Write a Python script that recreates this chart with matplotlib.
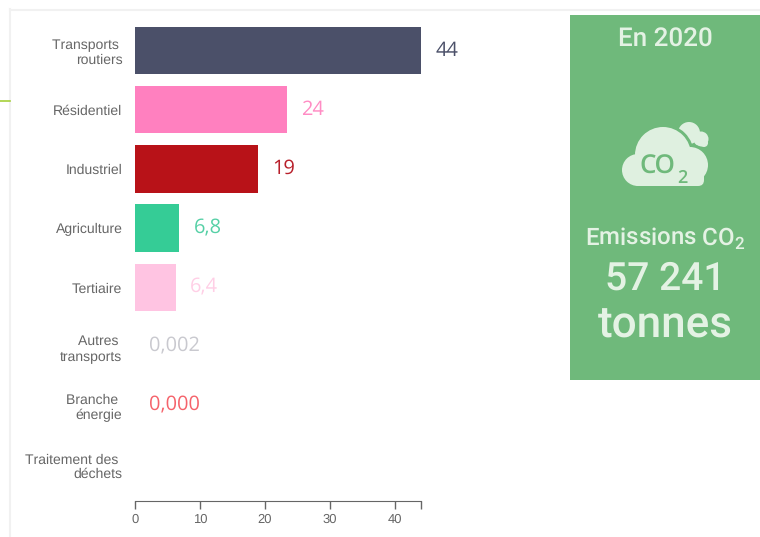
import numpy as np
import matplotlib
matplotlib.use('Agg')
import matplotlib.pyplot as plt
from matplotlib.patches import Circle, FancyBboxPatch, Rectangle

# data
labels = ['Transports \nroutiers', 'Résidentiel', 'Industriel', 'Agriculture', 'Tertiaire',
          'Autres \ntransports', 'Branche \nénergie', 'Traitement des \ndéchets']
values = [44, 23.4, 18.9, 6.8, 6.3, 0.002, 0.0, 0.0]
value_labels = ['44', '24', '19', '6,8', '6,4', '0,002', '0,000', '']
bar_colors = ['#4b5069', '#ff80bf', '#b81218', '#35cc96', '#ffc4e2', '#c9c9cf', '#f5636b', '#ffffff']
label_colors = ['#4b5069', '#ff8cc4', '#b81f2a', '#56d0a6', '#ffcfe6', '#c9c9cf', '#f5636b', '#ffffff']
xticks = [0, 10, 20, 30, 40]

W, H = 760, 537
plt.rcParams['font.family'] = ['Liberation Sans', 'DejaVu Sans']
plt.rcParams['text.hinting'] = 'no_hinting'
plt.rcParams['text.hinting_factor'] = 1
plt.rcParams['mathtext.fontset'] = 'custom'
plt.rcParams['mathtext.rm'] = 'Roboto:medium'

fig = plt.figure(figsize=(W/100, H/100), dpi=100)

# overlay in pixels, for the frame and the green panel
bg = fig.add_axes([0, 0, 1, 1])
bg.set_xlim(0, W)
bg.set_ylim(H, 0)
bg.axis('off')
bg.plot([10, 10], [9, H], color='#f1f1f1', lw=1.5)
bg.plot([10, W], [9.5, 9.5], color='#f1f1f1', lw=1.5)
bg.plot([0, 10], [100.5, 100.5], color='#a5d03a', lw=1.2)
bg.add_patch(Rectangle((570, 15), 190, 365, fc='#6fb97b', ec='none'))

# cloud icon
cl = '#dff0e0'
pn = '#6fb97b'
for (cx, cy, r) in [(689, 133, 11), (701, 139, 7.5), (704, 143, 4)]:
    bg.add_patch(Circle((cx, cy), r, fc=cl, ec='none', zorder=1))
bg.add_patch(Circle((663, 155), 31, fc=pn, ec='none', zorder=2))
bg.add_patch(Circle((690, 165), 21, fc=pn, ec='none', zorder=2))
bg.add_patch(Circle((663, 155), 28, fc=cl, ec='none', zorder=3))
bg.add_patch(Circle((638, 170), 16, fc=cl, ec='none', zorder=3))
bg.add_patch(Circle((690, 165), 18, fc=cl, ec='none', zorder=3))
bg.add_patch(FancyBboxPatch((634, 165), 70, 21, boxstyle='round,pad=0,rounding_size=6', fc=cl, ec='none', zorder=3))
bg.text(657, 167, 'CO', color=pn, fontsize=19, family='Open Sans', weight='semibold', ha='center', va='center', zorder=4)
bg.text(682, 178, '2', color=pn, fontsize=13, family='Open Sans', weight='semibold', ha='center', va='center', zorder=4)

# panel text
tc = '#e4f2e4'
bg.text(665, 39, 'En 2020', color=tc, fontsize=18.5, family='Roboto', weight='medium', ha='center', va='center')
bg.text(665, 238, 'Emissions CO$_2$', color=tc, fontsize=17, family='Roboto', weight='medium', ha='center', va='center')
bg.text(665, 279, '57 241', color=tc, fontsize=28, family='Roboto', weight='medium', ha='center', va='center')
bg.text(665, 326, 'tonnes', color=tc, fontsize=31.5, family='Roboto', weight='medium', ha='center', va='center')

# bars
ax = fig.add_axes([135/W, 1-501/H, (421-135)/W, (501-21)/H])
ax.patch.set_alpha(0)
y = np.arange(len(labels))
ax.barh(y, values, height=0.8, color=bar_colors)
for i in range(len(labels)):
    ax.text(values[i]+2.2, y[i], value_labels[i], color=label_colors[i], fontsize=14.2,
            family='Open Sans', ha='left', va='center')
ax.set_xlim(0, 44)
ax.set_ylim(7.61, -0.5)
ax.set_yticks(y, labels, color='#666666', fontsize=10, linespacing=1.15, ha='right')
ax.tick_params(axis='y', length=0, pad=13)
for t in ax.get_yticklabels():
    t.set_x(5.5/286)
ax.set_xticks(xticks)
ax.set_xticks([44], minor=True)
ax.tick_params(axis='x', which='both', length=6, width=1, color='#666666', labelcolor='#666666', labelsize=9.5, pad=3)
for s in ['top', 'right', 'left']:
    ax.spines[s].set_visible(False)
ax.spines['bottom'].set_color('#666666')

plt.savefig('out.png', dpi=100)
